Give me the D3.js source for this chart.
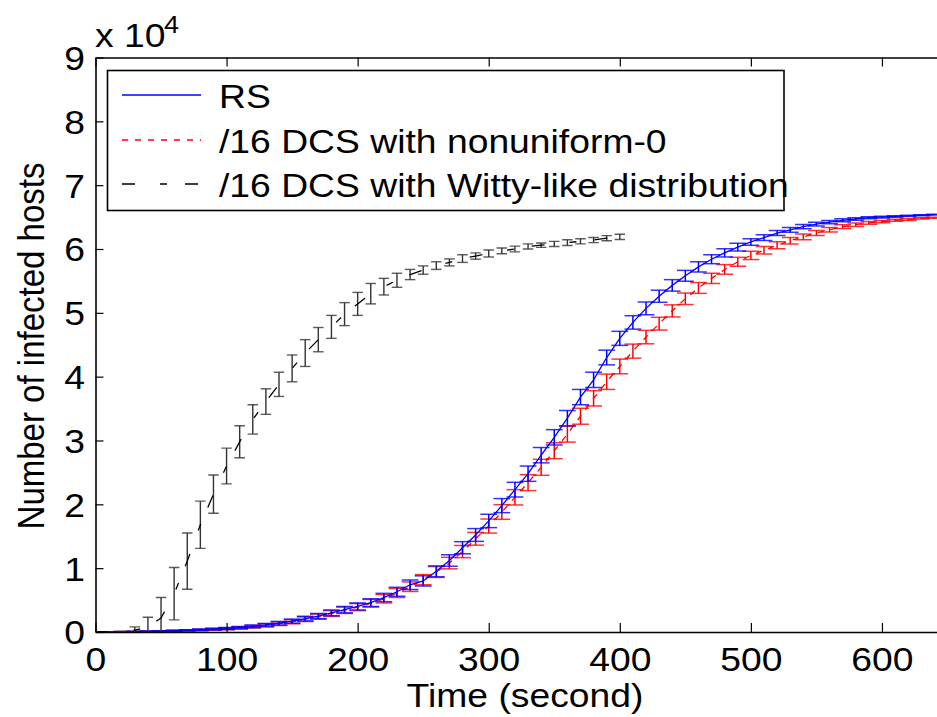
<!DOCTYPE html>
<html>
<head>
<meta charset="utf-8">
<script src="https://cdn.jsdelivr.net/npm/d3@7"></script>
<style>
  body { margin: 0; background: #fff; }
  text { font-family: "Liberation Sans", Arial, Helvetica, sans-serif; fill: #000; }
</style>
</head>
<body>
<svg id="chart" width="937" height="717"></svg>
<script>
// time steps (seconds) for RS and /16 DCS nonuniform-0
const timeFull = [0, 10, 20, 30, 40, 50, 60, 70, 80, 90, 100, 110, 120, 130, 140, 150, 160, 170, 180, 190,
  200, 210, 220, 230, 240, 250, 260, 270, 280, 290, 300, 310, 320, 330, 340, 350, 360, 370, 380, 390,
  400, 410, 420, 430, 440, 450, 460, 470, 480, 490, 500, 510, 520, 530, 540, 550, 560, 570, 580, 590,
  600, 610, 620, 630, 640];

// infected hosts (x 10^4)
const meanRS = [0.000, 0.002, 0.004, 0.007, 0.010, 0.015, 0.020, 0.026, 0.034, 0.044,
  0.056, 0.070, 0.088, 0.110, 0.137, 0.170, 0.21, 0.25, 0.30, 0.35,
  0.40, 0.46, 0.54, 0.63, 0.74, 0.80, 0.95, 1.12, 1.32, 1.52,
  1.74, 1.98, 2.23, 2.48, 2.77, 3.05, 3.35, 3.68, 3.95, 4.30,
  4.60, 4.85, 5.07, 5.26, 5.43, 5.58, 5.72, 5.84, 5.94, 6.03,
  6.11, 6.18, 6.25, 6.30, 6.35, 6.39, 6.42, 6.45, 6.47, 6.49,
  6.50, 6.51, 6.52, 6.53, 6.54];
const errRS = [0, 0.002, 0.003, 0.004, 0.005, 0.006, 0.008, 0.01, 0.012, 0.014,
  0.016, 0.018, 0.02, 0.024, 0.028, 0.032, 0.036, 0.04, 0.045, 0.05,
  0.055, 0.06, 0.065, 0.07, 0.075, 0.08, 0.085, 0.09, 0.095, 0.10,
  0.105, 0.11, 0.115, 0.12, 0.12, 0.12, 0.12, 0.12, 0.12, 0.115,
  0.11, 0.105, 0.10, 0.095, 0.09, 0.085, 0.08, 0.07, 0.065, 0.06,
  0.05, 0.045, 0.04, 0.036, 0.032, 0.028, 0.025, 0.022, 0.019, 0.016,
  0.014, 0.012, 0.01, 0.008, 0.006];

const meanNonuni = [0.000, 0.002, 0.004, 0.006, 0.009, 0.013, 0.018, 0.024, 0.031, 0.040,
  0.052, 0.066, 0.083, 0.104, 0.13, 0.16, 0.20, 0.24, 0.29, 0.34,
  0.39, 0.45, 0.52, 0.61, 0.71, 0.82, 0.94, 1.08, 1.26, 1.46,
  1.66, 1.88, 2.11, 2.34, 2.58, 2.84, 3.10, 3.38, 3.66, 3.92,
  4.16, 4.40, 4.62, 4.83, 5.03, 5.22, 5.39, 5.54, 5.68, 5.80,
  5.90, 5.98, 6.06, 6.13, 6.19, 6.25, 6.30, 6.35, 6.38, 6.41,
  6.43, 6.45, 6.46, 6.48, 6.49];
const errNonuni = [0, 0.002, 0.003, 0.004, 0.005, 0.006, 0.008, 0.01, 0.012, 0.014,
  0.016, 0.018, 0.02, 0.024, 0.028, 0.032, 0.036, 0.04, 0.045, 0.05,
  0.055, 0.06, 0.065, 0.07, 0.075, 0.08, 0.085, 0.09, 0.095, 0.10,
  0.11, 0.115, 0.12, 0.125, 0.125, 0.125, 0.125, 0.125, 0.12, 0.12,
  0.115, 0.11, 0.105, 0.10, 0.095, 0.09, 0.085, 0.08, 0.075, 0.07,
  0.065, 0.06, 0.055, 0.05, 0.045, 0.04, 0.035, 0.03, 0.026, 0.022,
  0.018, 0.015, 0.012, 0.01, 0.008];

// /16 DCS with Witty-like distribution
const timeWitty = [0, 10, 20, 30, 40, 50, 60, 70, 80, 90, 100, 110, 120, 130, 140, 150, 160, 170, 180, 190,
  200, 210, 220, 230, 240, 250, 260, 270, 280, 290, 300, 310, 320, 330, 340, 350, 360, 370, 380, 390, 400];
const meanWitty = [0.0, 0.002, 0.005, 0.03, 0.08, 0.22, 0.60, 1.11, 1.68, 2.16,
  2.60, 2.98, 3.33, 3.61, 3.88, 4.13, 4.37, 4.58, 4.78, 4.98,
  5.14, 5.30, 5.41, 5.51, 5.60, 5.67, 5.74, 5.79, 5.85, 5.89,
  5.93, 5.97, 6.00, 6.04, 6.06, 6.08, 6.10, 6.12, 6.14, 6.17, 6.19];
const errWitty = [0, 0, 0.005, 0.05, 0.15, 0.32, 0.41, 0.44, 0.37, 0.30,
  0.28, 0.25, 0.23, 0.20, 0.19, 0.21, 0.21, 0.19, 0.18, 0.18,
  0.18, 0.16, 0.13, 0.11, 0.08, 0.065, 0.06, 0.055, 0.06, 0.05,
  0.055, 0.045, 0.045, 0.04, 0.035, 0.04, 0.045, 0.04, 0.04, 0.04, 0.04];

const xTicks = [0, 100, 200, 300, 400, 500, 600];
const yTicks = [0, 1, 2, 3, 4, 5, 6, 7, 8, 9];
const legendLabels = ["RS", "/16 DCS with nonuniform-0", "/16 DCS with Witty-like distribution"];

const stretch = 1.13;  // text in the picture is a bit wider than it is tall
const svg = d3.select("#chart");

let x = d3.scaleLinear().domain([0, 642]).range([95.5, 937]);
let y = d3.scaleLinear().domain([0, 9]).range([632, 57.5]);

svg.append("defs").append("clipPath").attr("id", "plotclip")
  .append("rect")
  .attr("x", x.range()[0]).attr("y", y.range()[1])
  .attr("width", x.range()[1] - x.range()[0])
  .attr("height", y.range()[0] - y.range()[1]);

const plot = svg.append("g").attr("clip-path", "url(#plotclip)");

function drawSeries(times, means, errs, color, dash, tee, barColor, barWidth) {
  const pts = times.map((t, i) => ({ t: t, m: means[i], e: errs[i] }));
  const g = plot.append("g");
  // error bars
  const bars = g.selectAll(".bar").data(pts).enter().append("g");
  bars.append("line")
    .attr("x1", d => x(d.t)).attr("x2", d => x(d.t))
    .attr("y1", d => y(d.m - d.e)).attr("y2", d => y(d.m + d.e))
    .attr("stroke", barColor).attr("stroke-width", barWidth);
  [-1, 1].forEach(s => {
    bars.append("line")
      .attr("x1", d => x(d.t - tee)).attr("x2", d => x(d.t + tee))
      .attr("y1", d => y(d.m + s * d.e)).attr("y2", d => y(d.m + s * d.e))
      .attr("stroke", barColor).attr("stroke-width", barWidth).attr("stroke-opacity", 0.8);
  });
  // the mean line
  g.append("path")
    .datum(pts)
    .attr("fill", "none")
    .attr("stroke", color)
    .attr("stroke-width", 1.3)
    .attr("stroke-dasharray", dash)
    .attr("d", d3.line().x(d => x(d.t)).y(d => y(d.m)));
}

drawSeries(timeFull, meanNonuni, errNonuni, "#ff0000", "6,7", 6.4, "#ff0000", 1.5);
drawSeries(timeFull, meanRS, errRS, "#0000ff", null, 6.4, "#0000ff", 1.5);
drawSeries(timeWitty, meanWitty, errWitty, "#000000", "13,25,7,18", 4, "#333333", 1.4);

// axes
const xAxis = svg.append("g")
  .attr("transform", "translate(0," + y(0) + ")")
  .call(d3.axisBottom(x).tickValues(xTicks).tickSizeInner(-9).tickSizeOuter(0).tickPadding(16));
const yAxis = svg.append("g")
  .attr("transform", "translate(" + x(0) + ",0)")
  .call(d3.axisLeft(y).tickValues(yTicks).tickSizeInner(-8).tickSizeOuter(0).tickFormat(d3.format("d")));
svg.append("g")
  .attr("transform", "translate(0," + y(9) + ")")
  .call(d3.axisTop(x).tickValues(xTicks).tickSizeInner(-9).tickSizeOuter(0).tickFormat(""));

svg.selectAll(".domain").attr("stroke", "#000").attr("stroke-width", 1.6);
svg.selectAll(".tick line").attr("stroke", "#000").attr("stroke-width", 1.2);

xAxis.selectAll("text")
  .attr("font-size", 33)
  .attr("transform", "scale(" + stretch + ",1)");
yAxis.selectAll("text")
  .attr("font-size", 33)
  .attr("x", 0).attr("dy", "0.36em")
  .attr("transform", "translate(-10.5,0) scale(" + stretch + ",1)");

// exponent label
svg.append("text")
  .attr("transform", "translate(95,46.5) scale(" + stretch + ",1)")
  .attr("font-size", 33)
  .text("x 10");
svg.append("text")
  .attr("transform", "translate(164,33) scale(" + stretch + ",1)")
  .attr("font-size", 24)
  .text("4");

// axis titles
svg.append("text")
  .attr("transform", "translate(525,707) scale(" + stretch + ",1)")
  .attr("text-anchor", "middle")
  .attr("font-size", 33)
  .text("Time (second)");
svg.append("text")
  .attr("transform", "translate(44,346) rotate(-90) scale(1," + stretch + ")")
  .attr("text-anchor", "middle")
  .attr("font-size", 33)
  .text("Number of infected hosts");

// legend
const legend = svg.append("g");
legend.append("rect")
  .attr("x", 107.5).attr("y", 70.5).attr("width", 676.5).attr("height", 140)
  .attr("fill", "#fff").attr("stroke", "#000").attr("stroke-width", 1.6);
const legendColors = ["#0000ff", "#ff0000", "#000000"];
const legendDash = [null, "6,7", "13,25,7,18"];
const legendY = [95, 140, 184];
legendLabels.forEach((lab, i) => {
  legend.append("line")
    .attr("x1", 122).attr("x2", 201)
    .attr("y1", legendY[i]).attr("y2", legendY[i])
    .attr("stroke", legendColors[i]).attr("stroke-width", 1.3)
    .attr("stroke-dasharray", legendDash[i]);
  legend.append("text")
    .attr("transform", "translate(219," + (legendY[i] + 13) + ") scale(" + stretch + ",1)")
    .attr("font-size", 33)
    .text(lab);
});
</script>
</body>
</html>
